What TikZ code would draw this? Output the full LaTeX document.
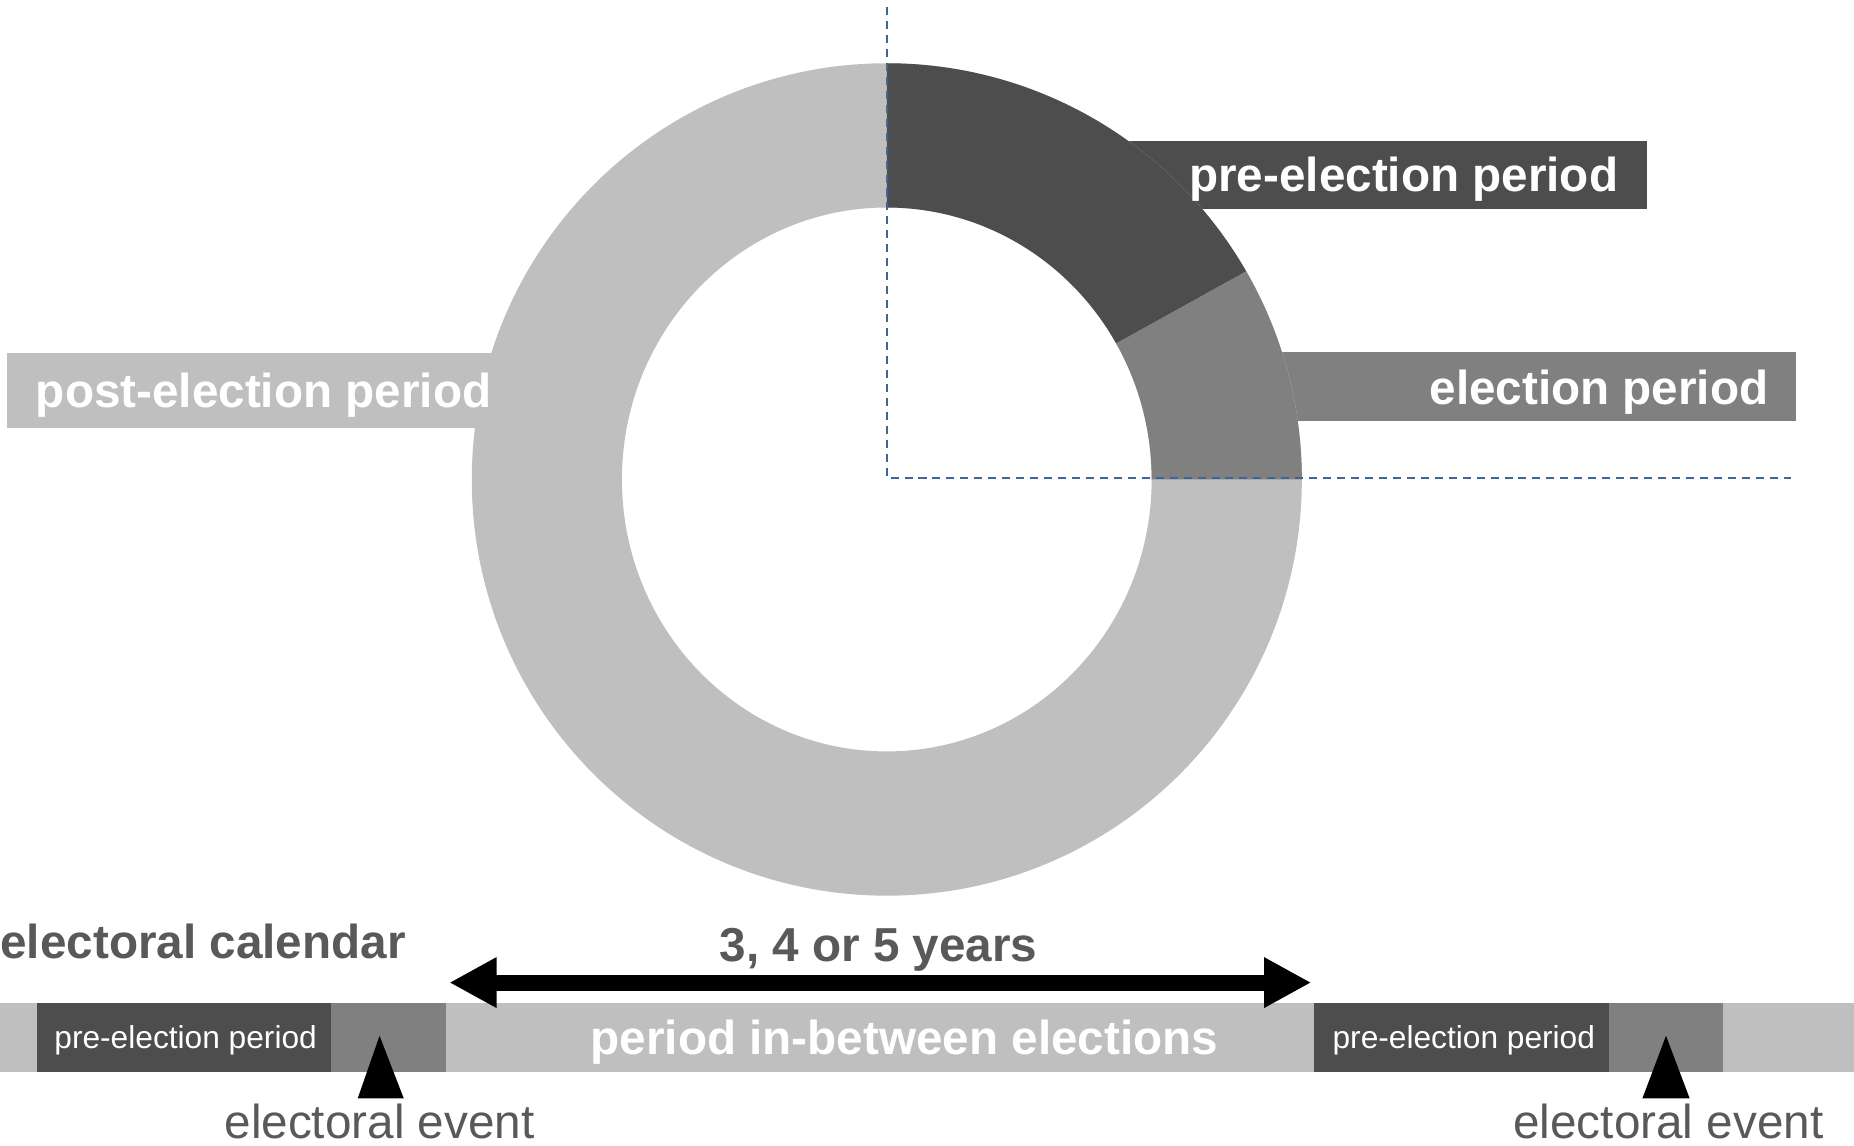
\documentclass[tikz,border=0pt]{standalone}
\usepackage{fontspec}
\setmainfont{Liberation Sans}
\usetikzlibrary{arrows.meta}
\definecolor{darkseg}{HTML}{4D4D4D}
\definecolor{midseg}{HTML}{808080}
\definecolor{lightseg}{HTML}{BFBFBF}
\definecolor{labelgray}{HTML}{595959}
\definecolor{guideblue}{HTML}{3A6699}
\begin{document}
\begin{tikzpicture}[x=0.5pt,y=0.5pt,
  bigtxt/.style={font=\fontsize{20.15pt}{24pt}\selectfont\bfseries, inner sep=0pt},
  regtxt/.style={font=\fontsize{20.15pt}{24pt}\selectfont, inner sep=0pt},
  smalltxt/.style={font=\fontsize{13.4pt}{16pt}\selectfont, inner sep=0pt, text=white},
  guide/.style={draw=guideblue, line width=0.85pt, dash pattern=on 3.4pt off 2.5pt},
  eventmark/.style={fill=black},
  spanarrow/.style={line width=6.75pt, {Triangle[length=20pt,width=20pt]}-{Triangle[length=20pt,width=20pt]}}
]
\useasboundingbox (0,0) rectangle (1568,-969.2);

% label bands (behind ring)
\fill[darkseg] (900,-119.5) rectangle (1393,-177);
\fill[midseg] (1000,-298) rectangle (1519,-356);
\fill[lightseg] (6,-298.3) rectangle (500,-361.7);

% ring
\coordinate (C) at (750,-405.5);
\fill[lightseg, even odd rule] (C) ellipse[x radius=351, y radius=352]
      (C) ellipse[x radius=224, y radius=230];
\fill[darkseg] ([shift={(C)}]90:351 and 352) arc[start angle=90, end angle=30, x radius=351, y radius=352]
   -- ([shift={(C)}]30:224 and 230) arc[start angle=30, end angle=90, x radius=224, y radius=230] -- cycle;
\fill[midseg] ([shift={(C)}]30:351 and 352) arc[start angle=30, end angle=0, x radius=351, y radius=352]
   -- ([shift={(C)}]0:224 and 230) arc[start angle=0, end angle=30, x radius=224, y radius=230] -- cycle;

% guides
\coordinate (gtop) at (750,-6);
\coordinate (gcorner) at (750,-404);
\coordinate (gright) at (1515,-404);
\draw[guide] (gtop) -- (gcorner) -- (gright);

% ring labels
\node[bigtxt, text=white, anchor=base east] (pre) at (1369,-162) {pre-election period};
\node[bigtxt, text=white, anchor=base east] (elec) at (1496,-342) {election period};
\node[bigtxt, text=white, anchor=base west] (post) at (30,-345) {post-election period};

% timeline
\fill[lightseg] (0,-848.6) rectangle (1568,-906.4);
\fill[darkseg] (31,-848.6) rectangle (280,-906.4);
\fill[midseg] (280,-848.6) rectangle (377,-906.4);
\fill[darkseg] (1111.5,-848.6) rectangle (1361,-906.4);
\fill[midseg] (1361,-848.6) rectangle (1457.5,-906.4);

\node[smalltxt, anchor=base] (tpre1) at (157,-887) {pre-election period};
\node[smalltxt, anchor=base] (tpre2) at (1238,-887) {pre-election period};
\node[bigtxt, text=white, anchor=base] (between) at (765,-892) {period in-between elections};

\node[bigtxt, text=labelgray, anchor=base west] (cal) at (0,-811) {electoral calendar};
\node[bigtxt, text=labelgray, anchor=base] (years) at (743,-813) {3, 4 or 5 years};

\coordinate (aL) at (380,-831);
\coordinate (aR) at (1109,-831);
\draw[spanarrow] (aL) -- (aR);

\fill[eventmark] (321,-876) -- (341.5,-929) -- (302.5,-929) -- cycle;
\fill[eventmark] (1409,-876) -- (1429,-929) -- (1389,-929) -- cycle;

\node[regtxt, text=labelgray, anchor=base] (ev1) at (321,-963) {electoral event};
\node[regtxt, text=labelgray, anchor=base] (ev2) at (1411,-963) {electoral event};
\end{tikzpicture}
\end{document}
